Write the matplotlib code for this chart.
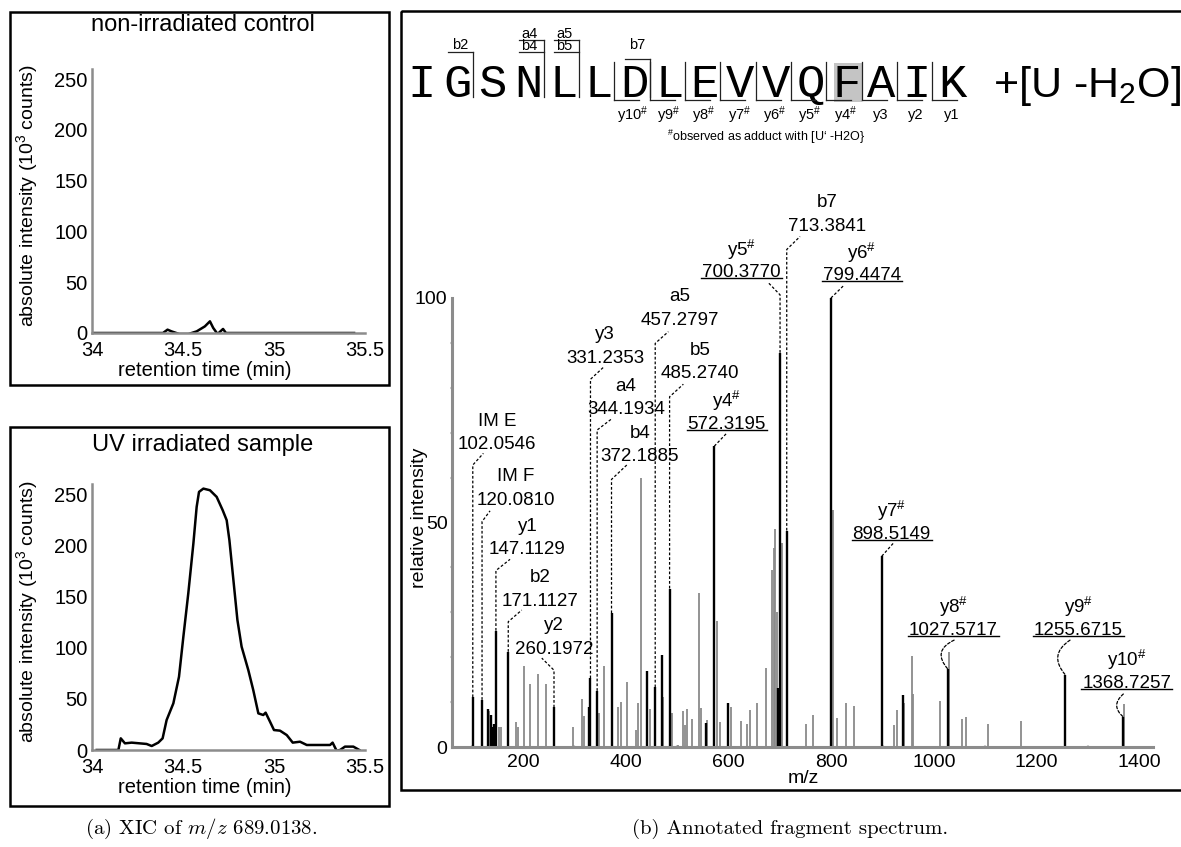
import matplotlib
matplotlib.use('Agg')
import matplotlib.pyplot as plt
from matplotlib.patches import Rectangle
from matplotlib.lines import Line2D
from matplotlib.transforms import IdentityTransform

plt.rcParams['font.family'] = ['Liberation Sans', 'DejaVu Sans']
plt.rcParams['mathtext.fontset'] = 'custom'
plt.rcParams['mathtext.rm'] = 'Liberation Sans'
plt.rcParams['mathtext.it'] = 'Liberation Sans:italic'
plt.rcParams['mathtext.bf'] = 'Liberation Sans:bold'

# ---------------- XIC data ----------------
ctrl_time = [34.007, 34.39, 34.415, 34.437, 34.48, 34.53, 34.575, 34.62, 34.648,
             34.666, 34.69, 34.72, 34.736, 35.44]
ctrl_int = [0, 0, 3.3, 1.6, -1, -1, 1.6, 6.5, 11.5, 5, -1, 4, 0, 0]

uv_time = [34.026, 34.145, 34.158, 34.181, 34.218, 34.30, 34.328, 34.364, 34.388,
           34.41, 34.447, 34.478, 34.502, 34.529, 34.557, 34.575, 34.588, 34.612,
           34.648, 34.685, 34.718, 34.74, 34.755, 34.777, 34.799, 34.822, 34.859,
           34.886, 34.914, 34.941, 34.954, 34.978, 35.0, 35.033, 35.07, 35.103,
           35.143, 35.18, 35.308, 35.322, 35.344, 35.363, 35.39, 35.436, 35.469]
uv_int = [0, 0, 11.4, 6.5, 7.2, 5.9, 3.9, 7.2, 11.4,
          29.3, 45.6, 71.6, 110.7, 153, 201.8, 237.6, 252.3, 255.5,
          253.9, 247.4, 234.4, 224.6, 205, 166, 127, 101, 78,
          58.6, 35.8, 34.2, 36.5, 27.7, 19.5, 18.9, 14.6, 7.2,
          8.1, 4.9, 4.9, 7.2, -0.7, 0, 3.3, 3.3, 0]

xic_xticks = [34, 34.5, 35, 35.5]
xic_xticklabels = ['34', '34.5', '35', '35.5']
xic_yticks = [0, 50, 100, 150, 200, 250]

# ---------------- Spectrum data ----------------
matched_mz = [102.0546, 120.0810, 131.2, 137.0, 140.3, 144.2, 147.1129, 171.1127,
              260.1972, 327.8, 331.2353, 344.1934, 372.1885, 442.0, 457.2797, 470.4,
              485.2740, 555.5, 572.3195, 599.6, 696.6, 700.3770, 713.3841, 799.4474,
              898.5149, 939.2, 1027.5717, 1255.6715, 1368.7257]
matched_int = [11.1, 10.5, 8.4, 7.1, 4.5, 5.1, 25.9, 21.2,
               8.8, 8.8, 15.3, 12.5, 29.8, 17.0, 13.3, 20.5,
               35.3, 5.4, 67.0, 9.7, 13.1, 87.8, 48.2, 100.0,
               42.5, 11.6, 17.3, 16.1, 6.7]

other_mz = [134.4, 153.2, 156.5, 186.4, 189.6, 201.9, 214.3, 228.5, 244.1, 296.7,
            314.2, 319.4, 348.6, 358.3, 384.3, 390.0, 401.8, 419.3, 424.5, 429.7,
            447.1, 473.0, 490.6, 502.2, 510.7, 514.6, 518.5, 528.2, 543.2, 545.8,
            558.7, 577.5, 583.4, 604.2, 624.3, 635.3, 641.2, 655.5, 673.0, 684.6,
            687.9, 691.1, 693.7, 704.2, 750.5, 765.5, 804.2, 811.5, 828.0, 843.8,
            922.9, 927.8, 941.9, 956.8, 960.1, 1011.3, 1030.1, 1055.0, 1061.8,
            1106.0, 1169.0, 1370.2]
other_int = [8.1, 4.5, 4.5, 5.6, 4.5, 18.1, 14.0, 16.3, 14.1, 4.4,
             10.8, 7.0, 7.6, 18.0, 9.0, 10.1, 14.5, 3.7, 9.8, 59.8,
             8.4, 11.1, 7.5, 0.5, 8.1, 4.9, 8.4, 6.2, 34.4, 8.7,
             6.1, 28.1, 5.5, 9.0, 5.9, 5.1, 8.2, 9.9, 17.7, 39.4,
             44.3, 48.5, 30.0, 45.4, 5.1, 7.1, 52.8, 6.4, 9.8, 9.2,
             5.0, 8.2, 9.7, 20.3, 11.9, 10.2, 21.2, 6.2, 6.7,
             5.1, 5.8, 9.5]

spec_xticks = [200, 400, 600, 800, 1000, 1200, 1400]
spec_yticks = [0, 50, 100]

ann_labels = ['IM E', 'IM F', 'y1', 'b2', 'y2', 'y3', 'a4', 'b4', 'a5', 'b5',
              r'y4$^\#$', r'y5$^\#$', 'b7', r'y6$^\#$', r'y7$^\#$', r'y8$^\#$',
              r'y9$^\#$', r'y10$^\#$']
ann_mz = [102.0546, 120.0810, 147.1129, 171.1127, 260.1972, 331.2353, 344.1934,
          372.1885, 457.2797, 485.2740, 572.3195, 700.3770, 713.3841, 799.4474,
          898.5149, 1027.5717, 1255.6715, 1368.7257]
ann_underline = [False] * 10 + [True, True, False, True, True, True, True, True]

# label layout (data coordinates of the spectrum axes)
ann_text_x = [149.9, 186.3, 208.3, 233.0, 260.3, 359.6, 400.5, 427.8, 505.6, 544.6,
              596.6, 625.8, 791.3, 859.4, 917.8, 1037.8, 1281.2, 1375.4]
ann_text_y = [67.3, 55.0, 44.0, 32.5, 21.8, 86.6, 75.2, 64.7, 95.1, 83.2,
              71.9, 105.6, 116.0, 104.9, 47.4, 25.9, 25.9, 14.2]
ann_start_x = [122.7, 135.7, 174.6, 197.4, 236.4, 357.7, 373.8, 401.9, 482.9, 512.1,
               596.6, 677.6, 739.3, 823.6, 921.0, 1039.3, 1265.0, 1368.8]
ann_start_y = [65.4, 52.6, 41.8, 30.5, 19.8, 84.7, 73.2, 62.8, 92.5, 80.8,
               69.9, 103.4, 113.7, 102.7, 45.4, 23.8, 23.8, 11.8]
ann_bend_y = [62.8, 50.2, 39.3, 27.9, 17.1, 81.9, 70.6, 59.6, 89.9, 78.0,
              None, 100.7, 110.8, None, None, None, None, None]
ann_rad = [0] * 15 + [0.67, 0.57, 0.58]

# peptide
peptide = 'IGSNLLDLEVVQFAIK'
b_sites = [2, 4, 5, 7]
b_labels = [['b2'], ['a4', 'b4'], ['a5', 'b5'], ['b7']]
y_numbers = list(range(1, 11))
highlight_residue = 13

GRAY = '#8c8c8c'
BAR_GRAY = '#8a8a8a'

W, H = 1181, 847
fig = plt.figure(figsize=(W / 100, H / 100), dpi=100)

# overlay in pixel coordinates for frames and sequence graphic
ov = fig.add_axes([0, 0, 1, 1], zorder=0)
ov.set_xlim(0, W)
ov.set_ylim(H, 0)
ov.axis('off')

for (x0, y0, x1, y1) in [(10, 12, 389, 385), (10, 427, 389, 806), (401, 11, 1190, 790)]:
    ov.add_patch(Rectangle((x0, y0), x1 - x0, y1 - y0, fill=False, ec='black', lw=1.8))

# ---------------- XIC panels ----------------
def xic_axes(rect, t, v, title, title_y, h_px):
    ax = fig.add_axes(rect, facecolor='none', zorder=2)
    ax.plot(t, v, color='black', lw=1.8, solid_joinstyle='round')
    ax.set_xlim(34, 35.5)
    ax.set_ylim(0, 260)
    ax.set_xticks(xic_xticks)
    ax.set_xticklabels(xic_xticklabels)
    ax.set_yticks(xic_yticks)
    for s in ['top', 'right']:
        ax.spines[s].set_visible(False)
    for s in ['left', 'bottom']:
        ax.spines[s].set_color(GRAY)
        ax.spines[s].set_linewidth(1.8)
    ax.tick_params(axis='both', length=0, labelsize=14.5)
    ax.tick_params(axis='x', pad=6)
    ax.tick_params(axis='y', pad=3)
    ax.set_xlabel('retention time (min)', fontsize=14.5)
    ax.set_ylabel('absolute intensity (10$^3$ counts)', fontsize=14)
    ax.xaxis.set_label_coords((205 - 92) / 273, -28 / h_px)
    ax.yaxis.set_label_coords(-0.19, 0.52)
    ov.text(203, title_y, title, fontsize=17, ha='center', va='center')
    return ax

xic_axes([92 / W, (H - 333) / H, 273 / W, 264 / H], ctrl_time, ctrl_int,
         'non-irradiated control', 25, 264)
xic_axes([92 / W, (H - 750) / H, 273 / W, 266 / H], uv_time, uv_int,
         'UV irradiated sample', 445, 266)

# ---------------- Spectrum ----------------
sp = fig.add_axes([451.7 / W, 100 / H, 701 / W, 449 / H], facecolor='none', zorder=2)
sp.vlines(other_mz, 0, other_int, color=BAR_GRAY, lw=1.3)
sp.vlines(matched_mz, 0, matched_int, color='black', lw=1.7)
sp.set_xlim(61, 1426)
sp.set_ylim(0, 100)
sp.set_xticks(spec_xticks)
sp.set_yticks(spec_yticks)
sp.set_xticks(range(100, 1401, 100), minor=True)
sp.set_yticks(range(0, 101, 10), minor=True)
for s in ['top', 'right']:
    sp.spines[s].set_visible(False)
for s in ['left', 'bottom']:
    sp.spines[s].set_color(GRAY)
    sp.spines[s].set_linewidth(2.2)
sp.tick_params(axis='both', which='major', length=0, labelsize=14)
sp.tick_params(axis='both', which='minor', length=2.5, width=1.5, color='#cfcfcf',
               direction='inout')
sp.tick_params(axis='x', which='major', pad=5)
sp.tick_params(axis='y', which='major', pad=3)
sp.set_xlabel('m/z', fontsize=14)
sp.set_ylabel('relative intensity', fontsize=14)
sp.xaxis.set_label_coords((803 - 451.7) / 701, -0.052)
sp.yaxis.set_label_coords(-0.034, 0.51)

dash = (0, (2.2, 1.6))
under_texts = []
for i, lab in enumerate(ann_labels):
    mz = ann_mz[i]
    peak = matched_int[matched_mz.index(mz)]
    tx, ty = ann_text_x[i], ann_text_y[i]
    sp.text(tx, ty + 5.2, lab, fontsize=13.5, ha='center', va='center', clip_on=False)
    tv = sp.text(tx, ty, f'{mz:.4f}', fontsize=13.5, ha='center', va='center',
                 clip_on=False)
    if ann_underline[i]:
        under_texts.append(tv)
    sx, sy = ann_start_x[i], ann_start_y[i]
    if ann_rad[i]:
        sp.annotate('', xy=(mz, peak), xytext=(sx, sy), annotation_clip=False,
                    arrowprops=dict(arrowstyle='-', lw=0.9, ls=dash, color='black',
                                    shrinkA=0, shrinkB=0,
                                    connectionstyle=f'arc3,rad={ann_rad[i]}'))
    else:
        bend = ann_bend_y[i] if ann_bend_y[i] is not None else peak
        sp.plot([mz, mz, sx], [peak, bend, sy], color='black', lw=0.9, ls=dash,
                clip_on=False)

# ---------------- Peptide sequence graphic ----------------
def cx(i):  # residue i (1-based) center, pixels
    return 422 + (i - 1) * 35.35

def bnd(k):  # boundary after residue k
    return cx(k) + 15.5

LINE = dict(color='#222222', lw=0.9)
base_y = 96.7
ov.add_patch(Rectangle((cx(highlight_residue) - 12, 63.3), 28, 38.4,
                       color='#c4c4c4', lw=0, zorder=0.5))
for i, ch in enumerate(peptide, start=1):
    ov.text(cx(i), base_y, ch, family=['Liberation Mono', 'DejaVu Sans Mono'],
            fontsize=34, ha='center', va='baseline', zorder=2)

b_tops = {2: [51.7], 4: [40.0, 51.7], 5: [40.0, 51.7], 7: [59.3]}
LAB = dict(fontsize=10.5, ha='center', va='baseline')
for k, labs in zip(b_sites, b_labels):
    tops = b_tops[k]
    x1 = bnd(k)
    ov.plot([x1, x1], [tops[0], base_y], **LINE)
    for ty in tops:
        ov.plot([x1 - 25, x1], [ty, ty], **LINE)
    if len(labs) == 2:
        ov.text(cx(k) + 1, 37.5, labs[0], **LAB)
        ov.text(cx(k) + 1, 49.5, labs[1], **LAB)
    else:
        ov.text(cx(k) + 3, tops[0] - (2.5 if k == 2 else 10.5), labs[0], **LAB)

for n in y_numbers:
    r = len(peptide) - n + 1
    k = r - 1
    x0 = bnd(k)
    ov.plot([x0, x0], [61.7, 100], **LINE)
    ov.plot([x0, x0 + 25], [100, 100], **LINE)
    lab = f'y{n}' + (r'$^\#$' if n >= 4 else '')
    ov.text(cx(r) - 1, 119.5, lab, **LAB)

ov.text(766, 137, r'$^\#$observed as adduct with [U‘ -H2O}', fontsize=9,
        ha='center', va='center')
ov.text(993, base_y, r'+[U -H$_2$O]', fontsize=31, ha='left', va='baseline')

# captions
fig.text(201 / W, 1 - 829 / H, r'(a) XIC of $m/z$ 689.0138.', fontsize=15,
         family='cmr10', math_fontfamily='cm', ha='center', va='center')
fig.text(790 / W, 1 - 829 / H, '(b) Annotated fragment spectrum.', fontsize=15,
         family='cmr10', ha='center', va='center')

# underline the adduct-labelled m/z values
fig.canvas.draw()
rend = fig.canvas.get_renderer()
for t in under_texts:
    bb = t.get_window_extent(rend)
    yl = bb.y0 + 3
    fig.add_artist(Line2D([bb.x0 - 1, bb.x1 + 1], [yl, yl], color='black', lw=1.0,
                          transform=IdentityTransform()))

fig.savefig('out.png', dpi=100)
